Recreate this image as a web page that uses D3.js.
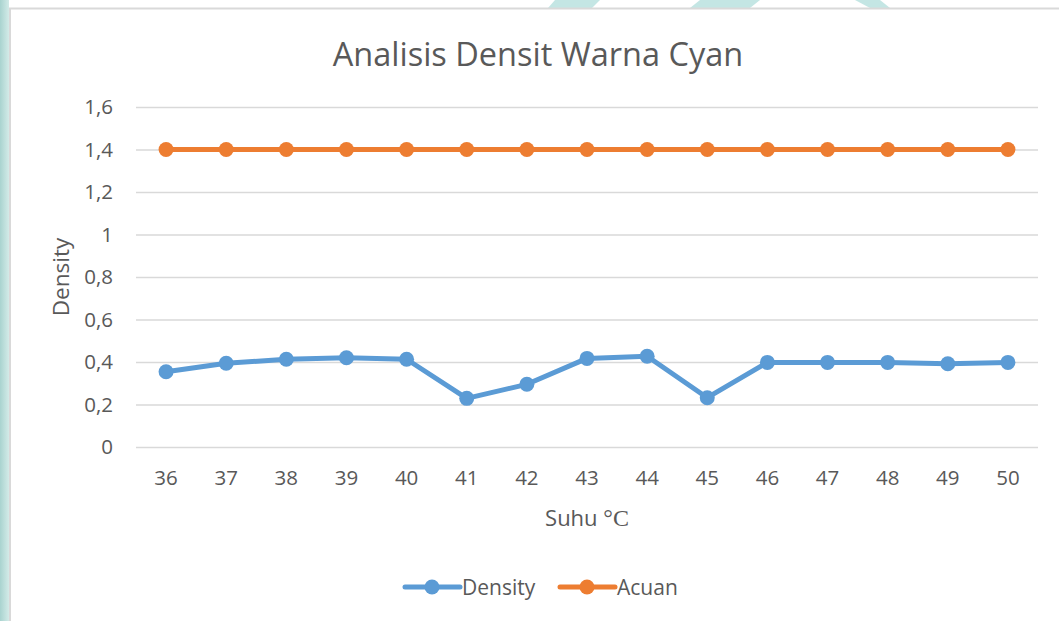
<!DOCTYPE html>
<html><head><meta charset="utf-8">
<script src="https://cdn.jsdelivr.net/npm/d3@7"></script>
<style>body{margin:0;background:#fff;}svg{display:block;}</style>
</head><body>
<svg id="c" width="1059" height="621"></svg>
<script>
const categories = [36,37,38,39,40,41,42,43,44,45,46,47,48,49,50];
const density = [0.354,0.394,0.413,0.42,0.413,0.229,0.295,0.417,0.427,0.232,0.398,0.398,0.398,0.392,0.398];
const acuan = [1.4,1.4,1.4,1.4,1.4,1.4,1.4,1.4,1.4,1.4,1.4,1.4,1.4,1.4,1.4];
const yTicks = [0,0.2,0.4,0.6,0.8,1,1.2,1.4,1.6];
const seriesNames = ["Density","Acuan"];
const colors = ["#5B9BD5","#ED7D31"];

const svg = d3.select("#c");
const W = 1059, H = 621;
const txt = "#595959";
const font = "'Open Sans', sans-serif";

// decorative page background
const defs = svg.append("defs");
const g1 = defs.append("linearGradient").attr("id","lg").attr("x1","0").attr("x2","1");
g1.append("stop").attr("offset","0").attr("stop-color","#a9d3cf");
g1.append("stop").attr("offset","1").attr("stop-color","#d3ebe8");
svg.append("rect").attr("x",0).attr("y",0).attr("width",9).attr("height",H).attr("fill","url(#lg)");
const shapes = [[[555,0],[600,0],[592,8],[548,8]],[[700,0],[760,0],[750,8],[690,8]],[[855,0],[880,0],[890,8],[870,8]],[[1120,0],[1160,0],[1170,8],[1130,8]]];
svg.selectAll("polygon.deco").data(shapes).join("polygon").attr("class","deco")
  .attr("points",d=>d.map(p=>p.join(",")).join(" ")).attr("fill","#7cc8c4").attr("opacity",0.45);
svg.append("line").attr("x1",9).attr("x2",W).attr("y1",8.5).attr("y2",8.5).attr("stroke","#d9d9d9").attr("stroke-width",2);
svg.append("line").attr("x1",10).attr("x2",10).attr("y1",8).attr("y2",H).attr("stroke","#d9d9d9").attr("stroke-width",2);

const x = d3.scaleBand().domain(categories).range([136,1038]);
const y = d3.scaleLinear().domain([0,1.6]).range([447,107]);
const cx = d => x(d) + x.bandwidth()/2;

// gridlines
const yAxis = d3.axisLeft(y).tickValues(yTicks).tickSize(-(1038-136)).tickPadding(23)
  .tickFormat(d => String(d).replace(".",","));
const ga = svg.append("g").attr("transform","translate(136,0)").call(yAxis);
ga.select(".domain").remove();
ga.selectAll("line").attr("stroke","#d9d9d9").attr("stroke-width",1.5);
ga.selectAll("text").attr("fill",txt).attr("font-family",font).attr("font-size",20.5);

const xAxis = d3.axisBottom(x).tickSize(0).tickPadding(23);
const gx = svg.append("g").attr("transform","translate(0,447)").call(xAxis);
gx.select(".domain").remove();
gx.selectAll("text").attr("fill",txt).attr("font-family",font).attr("font-size",20.5);

// lines
const line = d3.line().x((d,i)=>cx(categories[i])).y(d=>y(d));
[density, acuan].forEach((s,k)=>{
  svg.append("path").datum(s).attr("d",line).attr("fill","none").attr("stroke",colors[k]).attr("stroke-width",5).attr("stroke-linejoin","round");
  svg.append("g").selectAll("circle").data(s).join("circle")
    .attr("cx",(d,i)=>cx(categories[i])).attr("cy",d=>y(d)).attr("r",7.5).attr("fill",colors[k]);
});

// title
svg.append("text").attr("x",538).attr("y",66).attr("text-anchor","middle").attr("fill",txt)
  .attr("font-family",font).attr("font-size",32.5).text("Analisis Densit Warna Cyan");

// axis titles
svg.append("text").attr("transform","translate(69,277) rotate(-90)").attr("text-anchor","middle").attr("fill",txt)
  .attr("font-family",font).attr("font-size",22.5).text("Density");
const xt = svg.append("text").attr("x",587).attr("y",526).attr("text-anchor","middle").attr("fill",txt)
  .attr("font-family",font).attr("font-size",22);
xt.append("tspan").text("Suhu ");
xt.append("tspan").attr("font-family","'Liberation Serif', serif").attr("font-size",24).text("°C");

// legend
const legX = [405, 560];
seriesNames.forEach((n,k)=>{
  const lg = svg.append("g").attr("transform",`translate(${legX[k]},587)`);
  lg.append("line").attr("x1",0).attr("x2",55).attr("stroke",colors[k]).attr("stroke-width",5).attr("stroke-linecap","round");
  lg.append("circle").attr("cx",27).attr("r",7.5).attr("fill",colors[k]);
  lg.append("text").attr("x",57).attr("y",7.5).attr("fill",txt).attr("font-family",font).attr("font-size",21).text(n);
});
</script>
</body></html>
